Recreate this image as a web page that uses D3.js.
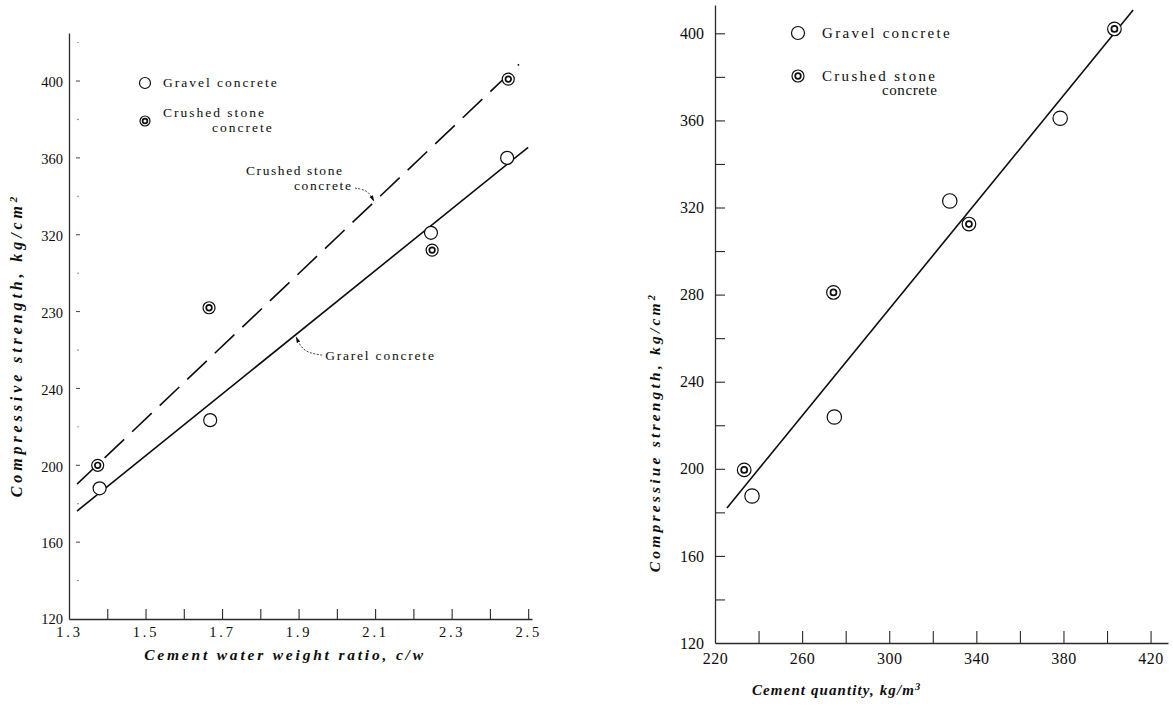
<!DOCTYPE html>
<html><head><meta charset="utf-8">
<script src="https://cdn.jsdelivr.net/npm/d3@7"></script>
<style>
body{margin:0;background:#fff;}
svg text{font-family:"Liberation Serif","DejaVu Serif",serif;fill:#0d0d0d;}
</style></head><body>
<svg id="chart" width="1173" height="708"></svg>
<script>
// ---------- Left panel: strength vs cement/water ratio ----------
const leftGravelRatio    = [1.38, 1.669, 2.246, 2.445];
const leftGravelStrength = [188, 223.5, 321, 360];
const leftCrushedRatio    = [1.375, 1.666, 2.249, 2.448];
const leftCrushedStrength = [200, 282, 312, 401];
const leftGravelFitRatio    = [1.321, 2.5];
const leftGravelFitStrength = [176.2, 365.5];
const leftCrushedFitRatio    = [1.321, 2.476];
const leftCrushedFitStrength = [190.2, 408.7];
const leftXTickValues = [1.3, 1.4, 1.5, 1.6, 1.7, 1.8, 1.9, 2.0, 2.1, 2.2, 2.3, 2.4, 2.5];
const leftXTickLabels = ["1.3", "1.5", "1.7", "1.9", "2.1", "2.3", "2.5"];
const leftYTickValues = [120, 160, 200, 240, 280, 320, 360, 400];
const leftYTickLabels = ["120", "160", "200", "240", "230", "320", "360", "400"];
const leftYMinorValues = [140, 180, 220, 260, 300, 340, 380, 420];

// ---------- Right panel: strength vs cement quantity ----------
const rightGravelQty      = [237, 274.8, 327.8, 378.5];
const rightGravelStrength = [187.5, 223.8, 323, 361];
const rightCrushedQty      = [233.4, 274.4, 336.6, 403.4];
const rightCrushedStrength = [199.5, 281, 312.4, 402];
const rightFitQty      = [225.5, 412];
const rightFitStrength = [182, 410.7];
const rightXTickValues = [220, 240, 260, 280, 300, 320, 340, 360, 380, 400, 420];
const rightXTickLabels = ["220", "260", "300", "340", "380", "420"];
const rightYTickValues = [120, 140, 160, 180, 200, 220, 240, 260, 280, 300, 320, 340, 360, 380, 400];
const rightYTickLabels = ["120", "160", "200", "240", "280", "320", "360", "400"];

const legendLabels = ["Gravel concrete", "Crushed stone", "concrete"];

const svg = d3.select("#chart");
const ink = "#0d0d0d";

svg.append("defs").append("marker")
  .attr("id", "arr").attr("viewBox", "0 0 10 10").attr("refX", 9).attr("refY", 5)
  .attr("markerWidth", 7).attr("markerHeight", 7).attr("orient", "auto")
  .append("path").attr("d", "M0,2 L10,5 L0,8 Z").attr("fill", ink);

function drawGravel(g, cx, cy, r) {
  g.append("circle").attr("cx", cx).attr("cy", cy).attr("r", r)
    .attr("fill", "#fff").attr("stroke", ink).attr("stroke-width", 1.2);
}
function drawCrushed(g, cx, cy, r, ri) {
  g.append("circle").attr("cx", cx).attr("cy", cy).attr("r", r)
    .attr("fill", "#fff").attr("stroke", ink).attr("stroke-width", 1.2);
  g.append("circle").attr("cx", cx).attr("cy", cy).attr("r", ri)
    .attr("fill", "none").attr("stroke", ink).attr("stroke-width", 1.7);
}
function styleAxis(g) {
  g.select(".domain").attr("stroke", "#2a2a2a").attr("stroke-width", 1.3);
  g.selectAll(".tick line").attr("stroke", "#2a2a2a").attr("stroke-width", 1.1);
  g.selectAll(".tick text").attr("fill", ink)
    .style("font-family", '"Liberation Serif","DejaVu Serif",serif');
}

// =================== LEFT ===================
const xL = d3.scaleLinear().domain([1.3, 2.51]).range([69, 532]);
const yL = d3.scaleLinear().domain([120, 425]).range([619, 33]);
const gL = svg.append("g");

const fmt1 = d3.format(".1f");
const axXL = gL.append("g").attr("transform", `translate(0,${yL(120)})`)
  .call(d3.axisBottom(xL).tickValues(leftXTickValues).tickSizeInner(-10).tickSizeOuter(0)
    .tickPadding(8).tickFormat(d => leftXTickLabels.includes(fmt1(d)) ? fmt1(d) : ""));
styleAxis(axXL);
axXL.selectAll(".tick text").style("font-size", "14.5px").style("letter-spacing", "2.8px");
axXL.selectAll(".tick").filter(d => d === 1.3).select("line").remove();

const axYL = gL.append("g").attr("transform", `translate(${xL(1.3)},0)`)
  .call(d3.axisLeft(yL).tickValues(leftYTickValues).tickSize(0).tickPadding(6)
    .tickFormat((d, i) => leftYTickLabels[i]));
styleAxis(axYL);
axYL.selectAll(".tick text").style("font-size", "14.5px").attr("dy", "0.4em");
axYL.selectAll(".tick").filter(d => d === 120).select("text").attr("dy", "0.3em");
gL.selectAll(".ymaj").data(leftYTickValues.filter(v => v > 120)).join("line")
  .attr("x1", xL(1.3) + 7).attr("x2", xL(1.3) + 11)
  .attr("y1", d => yL(d)).attr("y2", d => yL(d))
  .attr("stroke", "#444").attr("stroke-width", 1);
gL.selectAll(".ymin").data(leftYMinorValues).join("circle")
  .attr("cx", xL(1.3) + 9).attr("cy", d => yL(d)).attr("r", 0.7).attr("fill", "#555");

const lineL = d3.line().x(d => xL(d[0])).y(d => yL(d[1]));
gL.append("path").attr("d", lineL(d3.zip(leftGravelFitRatio, leftGravelFitStrength)))
  .attr("fill", "none").attr("stroke", ink).attr("stroke-width", 1.6);
gL.append("path").attr("d", lineL(d3.zip(leftCrushedFitRatio, leftCrushedFitStrength)))
  .attr("fill", "none").attr("stroke", ink).attr("stroke-width", 1.6)
  .attr("stroke-dasharray", "27,11");

d3.zip(leftGravelRatio, leftGravelStrength).forEach(d => drawGravel(gL, xL(d[0]), yL(d[1]), 6.5));
d3.zip(leftCrushedRatio, leftCrushedStrength).forEach(d => drawCrushed(gL, xL(d[0]), yL(d[1]), 6, 2.8));

drawGravel(gL, 145, 83, 5.5);
drawCrushed(gL, 145, 121, 5, 2.4);
const legFontL = "13.5px";
gL.append("text").attr("x", 163).attr("y", 87).text(legendLabels[0])
  .style("font-size", legFontL).style("letter-spacing", "2px");
gL.append("text").attr("x", 163).attr("y", 117).text(legendLabels[1])
  .style("font-size", legFontL).style("letter-spacing", "2px");
gL.append("text").attr("x", 212).attr("y", 132).text(legendLabels[2])
  .style("font-size", legFontL).style("letter-spacing", "2px");

function fitAt(xs, ys, x) { return ys[0] + (ys[1] - ys[0]) * (x - xs[0]) / (xs[1] - xs[0]); }
const cTip = [xL(2.097), yL(fitAt(leftCrushedFitRatio, leftCrushedFitStrength, 2.097))];
const gTip = [xL(1.891), yL(fitAt(leftGravelFitRatio, leftGravelFitStrength, 1.891))];
const curve = d3.line().curve(d3.curveBasis);
gL.append("path")
  .attr("d", curve([[cTip[0] - 19, cTip[1] - 14], [cTip[0] - 6, cTip[1] - 12], [cTip[0], cTip[1] - 1]]))
  .attr("fill", "none").attr("stroke", "#333").attr("stroke-width", 0.9)
  .attr("stroke-dasharray", "2,1.5").attr("marker-end", "url(#arr)");
gL.append("text").attr("x", cTip[0] - 128).attr("y", cTip[1] - 27).text("Crushed stone")
  .style("font-size", legFontL).style("letter-spacing", "1.6px");
gL.append("text").attr("x", cTip[0] - 80).attr("y", cTip[1] - 12).text("concrete")
  .style("font-size", legFontL).style("letter-spacing", "1.6px");
gL.append("path")
  .attr("d", curve([[gTip[0] + 27, gTip[1] + 20], [gTip[0] + 8, gTip[1] + 17], [gTip[0] + 1, gTip[1] + 2]]))
  .attr("fill", "none").attr("stroke", "#333").attr("stroke-width", 0.9)
  .attr("stroke-dasharray", "2,1.5").attr("marker-end", "url(#arr)");
gL.append("text").attr("x", gTip[0] + 30).attr("y", gTip[1] + 25).text("Grarel concrete")
  .style("font-size", legFontL).style("letter-spacing", "1.8px");

gL.append("text").attr("x", 285).attr("y", 660).attr("text-anchor", "middle")
  .style("font-size", "15.5px").style("font-style", "italic").style("font-weight", "bold")
  .style("letter-spacing", "2.8px").text("Cement water weight ratio, c/w");
const yTL = gL.append("text").attr("transform", "translate(22,345) rotate(-90)")
  .attr("text-anchor", "middle").style("font-size", "16px").style("font-style", "italic")
  .style("font-weight", "bold").style("letter-spacing", "3.9px");
yTL.append("tspan").text("Compressive strength, kg/cm");
yTL.append("tspan").attr("dy", "-0.45em").style("font-size", "11px").text("2");

// =================== RIGHT ===================
const xR = d3.scaleLinear().domain([220, 428]).range([715, 1168]);
const yR = d3.scaleLinear().domain([120, 413]).range([643, 5]);
const gR = svg.append("g");

const axXR = gR.append("g").attr("transform", `translate(0,${yR(120)})`)
  .call(d3.axisBottom(xR).tickValues(rightXTickValues).tickSizeInner(-12).tickSizeOuter(0)
    .tickPadding(10).tickFormat(d => rightXTickLabels.includes(String(d)) ? String(d) : ""));
styleAxis(axXR);
axXR.selectAll(".tick text").style("font-size", "16px").style("letter-spacing", "0.5px");
axXR.selectAll(".tick").filter(d => d === 220).select("line").remove();

const axYR = gR.append("g").attr("transform", `translate(${xR(220)},0)`)
  .call(d3.axisLeft(yR).tickValues(rightYTickValues).tickSizeInner(-10).tickSizeOuter(0)
    .tickPadding(11).tickFormat(d => rightYTickLabels.includes(String(d)) ? String(d) : ""));
styleAxis(axYR);
axYR.selectAll(".tick text").style("font-size", "16px");
axYR.selectAll(".tick").filter(d => d === 120).select("line").remove();

gR.append("path").attr("d", d3.line().x(d => xR(d[0])).y(d => yR(d[1]))(d3.zip(rightFitQty, rightFitStrength)))
  .attr("fill", "none").attr("stroke", ink).attr("stroke-width", 1.6);

d3.zip(rightGravelQty, rightGravelStrength).forEach(d => drawGravel(gR, xR(d[0]), yR(d[1]), 7.2));
d3.zip(rightCrushedQty, rightCrushedStrength).forEach(d => drawCrushed(gR, xR(d[0]), yR(d[1]), 6.8, 3));

drawGravel(gR, 798, 33, 6.5);
drawCrushed(gR, 798, 76, 6, 2.8);
gR.append("text").attr("x", 822).attr("y", 38).text(legendLabels[0])
  .style("font-size", "15px").style("letter-spacing", "2.3px");
gR.append("text").attr("x", 822).attr("y", 81).text(legendLabels[1])
  .style("font-size", "15px").style("letter-spacing", "2.3px");
gR.append("text").attr("x", 882).attr("y", 95).text(legendLabels[2])
  .style("font-size", "15px").style("letter-spacing", "0.6px");

const xTR = gR.append("text").attr("x", 752).attr("y", 695)
  .style("font-size", "15px").style("font-style", "italic").style("font-weight", "bold")
  .style("letter-spacing", "1.1px");
xTR.append("tspan").text("Cement quantity, kg/m");
xTR.append("tspan").attr("dy", "-0.45em").style("font-size", "10.5px").text("3");
const yTR = gR.append("text").attr("transform", "translate(660,432) rotate(-90)")
  .attr("text-anchor", "middle").style("font-size", "15.5px").style("font-style", "italic")
  .style("font-weight", "bold").style("letter-spacing", "3.2px");
yTR.append("tspan").text("Compressiue strength, kg/cm");
yTR.append("tspan").attr("dy", "-0.45em").style("font-size", "10.5px").text("2");
</script>
</body></html>
